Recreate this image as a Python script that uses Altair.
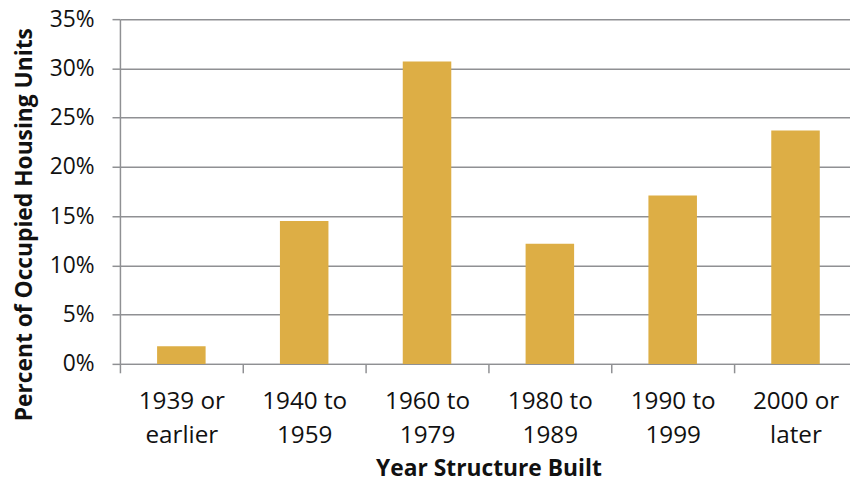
import altair as alt
import pandas as pd

categories = ["1939 or earlier", "1940 to 1959", "1960 to 1979",
              "1980 to 1989", "1990 to 1999", "2000 or later"]
percents = [1.8, 14.5, 30.7, 12.2, 17.1, 23.7]
y_ticks = [0, 5, 10, 15, 20, 25, 30, 35]

df = pd.DataFrame({"period": categories, "pct": percents})

GRAY = "#8f9093"
FONT = "Open Sans"

chart = alt.Chart(df).mark_bar(
    color="#ddae45", width=alt.RelativeBandSize(0.395)
).encode(
    x=alt.X(
        "period:N", sort=categories,
        scale=alt.Scale(paddingInner=0, paddingOuter=0, range=[0, 744]),
        axis=alt.Axis(
            title="Year Structure Built", labelAngle=0, tickBand="extent",
            labelExpr="[substring(datum.label, 0, 7), substring(datum.label, 8)]",
            labelFont=FONT, labelFontSize=24.5, labelColor="#111111",
            labelLineHeight=34, labelPadding=17, labelOverlap=False,
            tickSize=9, tickColor=GRAY, tickWidth=1.5,
            domainColor=GRAY, domainWidth=1.5, grid=False,
            titleFont=FONT, titleFontSize=23, titleFontWeight="bold",
            titleColor="#111111", titleBaseline="alphabetic", titleY=113,
        ),
    ),
    y=alt.Y(
        "pct:Q",
        scale=alt.Scale(domain=[0, 35], nice=False),
        axis=alt.Axis(
            values=y_ticks, labelExpr="datum.value + '%'",
            title="Percent of Occupied Housing Units",
            labelFont=FONT, labelFontSize=23, labelColor="#111111",
            labelPadding=18, tickSize=8, tickColor=GRAY, tickWidth=1.5,
            domainColor=GRAY, domainWidth=1.5,
            grid=True, gridColor=GRAY, gridWidth=1.5,
            titleFont=FONT, titleFontSize=23, titleFontWeight="bold",
            titleColor="#111111", titleBaseline="alphabetic",
            titleX=-89, titleY=207, titleAngle=-90,
        ),
    ),
).properties(
    width=737, height=348,
    autosize=alt.AutoSizeParams(type="none"),
    padding={"left": 113, "top": 9, "right": 0, "bottom": 118},
).configure_view(stroke=None)

chart.save("out.html", embed_options={"renderer": "svg", "actions": False})
